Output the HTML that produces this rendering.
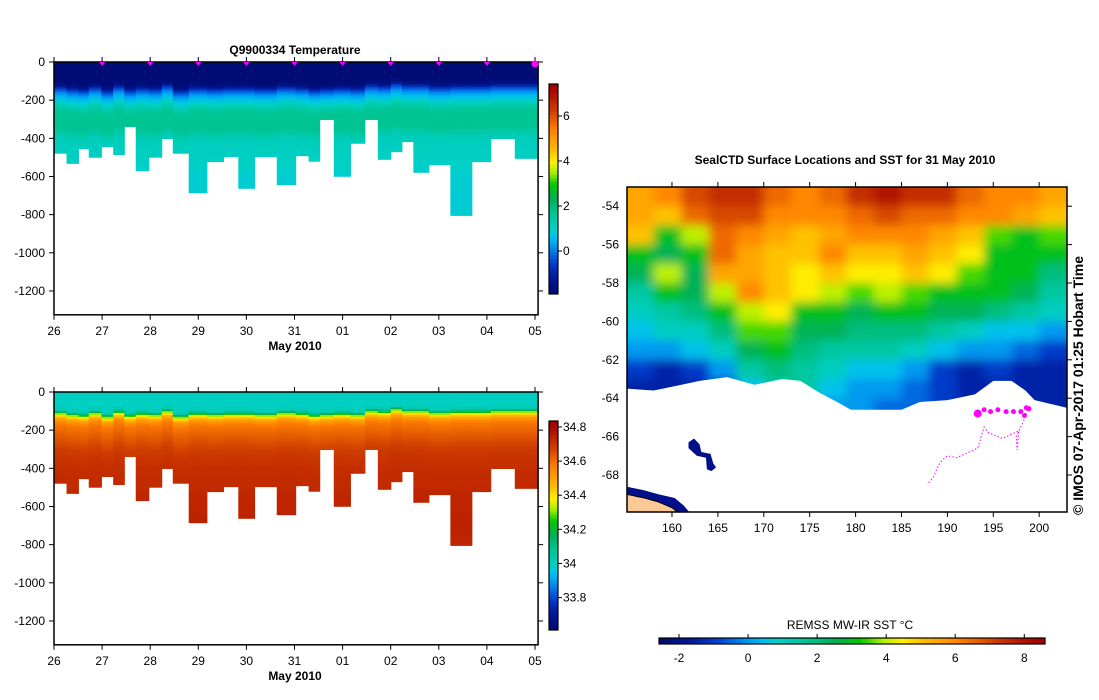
<!DOCTYPE html>
<html><head><meta charset="utf-8"><style>
html,body{margin:0;padding:0;background:#fff;}
svg{display:block;font-family:"Liberation Sans",sans-serif;}
text{fill:#000;}
</style></head><body>
<svg id="fig" width="1099" height="700" viewBox="0 0 1099 700" xmlns="http://www.w3.org/2000/svg">
<defs>
<filter id="bl" x="0" y="0" width="1" height="1" filterUnits="objectBoundingBox"><feGaussianBlur stdDeviation="5" edgeMode="duplicate"/></filter>
<clipPath id="mapclip"><rect x="627" y="187" width="440" height="325"/></clipPath>
</defs>
<g id="tempChart"></g>
<g id="salChart"></g>
<g id="mapChart"></g>
<text x="295" y="54" text-anchor="middle" font-size="12" font-weight="bold">Q9900334  Temperature</text>
<text x="845" y="164" text-anchor="middle" font-size="12" font-weight="bold">SealCTD Surface Locations and SST for 31 May 2010</text>
<text x="850" y="629" text-anchor="middle" font-size="12">REMSS MW-IR SST °C</text>
<text transform="translate(1083,515) rotate(-90)" font-size="14" font-weight="bold">© IMOS 07-Apr-2017 01:25 Hobart Time</text>
</svg>
<script>
// ---- profile data ----
const profileBounds = [0,0.261,0.508,0.723,0.986,1.231,1.462,1.7,1.97,2.239,2.47,2.801,3.178,3.524,3.832,4.17,4.632,5.024,5.294,5.524,5.817,6.163,6.463,6.733,7.002,7.233,7.471,7.794,8.241,8.687,9.08,9.58,10.064];
const profileBottoms = [478,531,454,499,443,485,338,569,499,401,478,685,522,496,662,496,643,491,520,301,599,426,301,510,470,417,578,538,804,522,401,505];
const mixedLayerDepths = [120,130,135,120,140,115,135,125,130,110,140,125,130,125,125,130,120,125,135,130,125,130,110,115,100,110,110,120,115,115,110,110];
const tempDepths = [0,25,50,75,100,125,150,175,200,225,250,275,300,350,400,450,500,550,600,700,900];
const tempValues = [-1.8,-1.8,-1.8,-1.8,-1.8,-1.6,-0.4,0.3,0.7,1.1,1.5,1.7,1.7,1.7,1.2,1.1,1.05,1.0,0.9,0.9,0.9];
const salDepths = [0,25,50,75,100,125,150,175,200,225,250,275,300,350,400,450,500,550,600,700,900];
const salValues = [34.0,34.0,34.0,34.0,34.03,34.38,34.52,34.58,34.6,34.62,34.64,34.66,34.68,34.7,34.71,34.72,34.72,34.73,34.73,34.74,34.72];
const dayLabels = ["26","27","28","29","30","31","01","02","03","04","05"];
const depthTicks = [0,-200,-400,-600,-800,-1000,-1200];
const tempCbTicks = [0,2,4,6];
const salCbTicks = ["33.8","34","34.2","34.4","34.6","34.8"];
// ---- map data ----
const sstLons = [156.5,159.5,162.5,165.5,168.5,171.5,174.5,177.5,180.5,183.5,186.5,189.5,192.5,195.5,198.5,201.5];
const sstLats = [-53.5,-54.5,-55.5,-56.5,-57.5,-58.5,-59.5,-60.5,-61.5,-62.5,-63.5,-64.5];
const sstRow0 = [5.5,6,7,7.5,7.5,6.5,6,6.5,7.5,8,7.5,7.5,6.5,6,6,5.5];
const sstRow1 = [5.5,5,6.5,7,7,6,6,6,6.5,7,6.5,6.5,6,6,5.5,5];
const sstRow2 = [5,3,4,6.5,6,5.5,5,5.5,6,6,6,5.5,5,3.5,3,3.5];
const sstRow3 = [3,2.5,3,6.5,5.5,5,5,6,5,5,5.5,5,4.5,3,3,3];
const sstRow4 = [2.5,4,2.5,5.5,5.5,5,4.5,5,4.5,4.5,5,4.5,3.5,3,3,2];
const sstRow5 = [1.5,3,2.5,4,6,5,4.5,4,3.5,4,3.5,3,3,3,2.5,1.5];
const sstRow6 = [1,1.5,2,3,4,4.5,3,3,2.5,3,3,2.5,2.5,2,1.5,1];
const sstRow7 = [0.5,1,1,2,3.5,3.5,2.5,2.5,2,2,2,1.5,1,0.5,0.5,0];
const sstRow8 = [0,0,0.5,1,2.5,3,2,1.5,1.5,1.5,1,0.5,0,0,-0.5,-1];
const sstRow9 = [-1,-1.5,-1,0,1.5,2,1.5,1,0.5,0.5,0,-1,-1.5,-1,-1.5,-1.5];
const sstRow10 = [-1.5,-1.5,-1.5,-1,0.5,1.5,1.5,0.5,0,0,-0.5,-1,-1.5,-1.5,-1.5,-1.5];
const sstRow11 = [-1.5,-1.5,-1.5,-1,0,0.5,0.5,0,0,-0.5,-0.5,-1,-1.5,-1.5,-1.5,-1.5];
const iceLons = [155,158,160,163,166,169,172,174,176,178,179.5,185,187,190,193,195,197,198.5,199.5,203,203,155];
const iceLats = [-63.5,-63.6,-63.4,-63.1,-62.9,-63.3,-63.0,-63.1,-63.7,-64.2,-64.6,-64.6,-64.2,-64.1,-63.8,-63.1,-63.1,-63.6,-64.1,-64.5,-70,-70];
const trackLons = [198.7,198.3,197.5,197.6,197.8,196,194.5,194,193.5,193.3,191,190,189.5,189,188.5,187.8];
const trackLats = [-64.6,-65.2,-66,-66.7,-65.7,-66.1,-65.8,-65.5,-66.3,-66.6,-67.1,-67,-67.2,-67.5,-68.1,-68.5];
const surfLons = [193.3,194,194.7,195.5,196.4,197.2,198,198.6,198.9,198.4];
const surfLats = [-64.8,-64.6,-64.7,-64.6,-64.7,-64.7,-64.7,-64.5,-64.55,-64.9];
const lonTicks = [160,165,170,175,180,185,190,195,200];
const latTicks = [-54,-56,-58,-60,-62,-64,-66,-68];
const sstCbTicks = [-2,0,2,4,6,8];

const NS="http://www.w3.org/2000/svg";
function mk(tag,attrs,parent,txt){const e=document.createElementNS(NS,tag);for(const k in attrs)e.setAttribute(k,attrs[k]);if(txt!==undefined)e.textContent=txt;parent.appendChild(e);return e;}
const stops=[[0,[0,10,112]],[0.08,[0,26,154]],[0.15,[0,64,208]],[0.22,[0,144,240]],[0.27,[0,192,240]],[0.31,[0,208,200]],[0.39,[0,196,144]],[0.46,[0,176,80]],[0.52,[0,200,0]],[0.58,[176,240,0]],[0.63,[255,240,0]],[0.68,[255,192,0]],[0.78,[255,128,0]],[0.87,[208,64,0]],[0.95,[176,16,0]],[1,[160,0,0]]];
function cmap(t){t=Math.max(0,Math.min(1,t));for(let i=1;i<stops.length;i++){if(t<=stops[i][0]){const a=stops[i-1],b=stops[i];const f=(t-a[0])/(b[0]-a[0]);const c=a[1].map((v,k)=>Math.round(v+(b[1][k]-v)*f));return `rgb(${c[0]},${c[1]},${c[2]})`;}}return 'rgb(160,0,0)';}
function interp(xs,ys,x){if(x<=xs[0])return ys[0];for(let i=1;i<xs.length;i++){if(x<=xs[i]){const f=(x-xs[i-1])/(xs[i]-xs[i-1]);return ys[i-1]+(ys[i]-ys[i-1])*f;}}return ys[ys.length-1];}

function section(g,y0,vals,depths,vmin,vmax,cbTop,cbBot,cbTicks,showMarkers,cbName){
  const X=d=>54+d*48.1, Y=z=>y0+z*0.1908;
  const yBot=Y(1325), xR=X(10.064);
  for(let i=0;i<profileBottoms.length;i++){
    const x1=X(profileBounds[i]),x2=X(profileBounds[i+1]);
    const shift=mixedLayerDepths[i]-125;
    for(let z=0;z<profileBottoms[i];z+=10){
      const z2=Math.min(z+10,profileBottoms[i]);
      const v=interp(depths,vals,z+5-shift);
      const r=mk('rect',{x:x1.toFixed(2),y:Y(z).toFixed(2),width:(x2-x1+0.5).toFixed(2),height:(Y(z2)-Y(z)+0.5).toFixed(2),fill:cmap((v-vmin)/(vmax-vmin))},g);
      
      
    }
  }
  const fr=mk('rect',{x:54,y:y0,width:xR-54,height:yBot-y0,fill:'none',stroke:'#000','stroke-width':1.5},g);
  
  depthTicks.forEach(t=>{const y=Y(-t);
    mk('line',{x1:49,x2:54,y1:y,y2:y,stroke:'#000'},g);
    mk('line',{x1:xR,x2:xR+5,y1:y,y2:y,stroke:'#000'},g);
    const tl=mk('text',{x:45,y:y+4,'text-anchor':'end','font-size':12},g,String(t));
    });
  dayLabels.forEach((l,i)=>{const x=X(i);
    mk('line',{x1:x,x2:x,y1:yBot,y2:yBot+5,stroke:'#000'},g);
    mk('line',{x1:x,x2:x,y1:y0,y2:y0-5,stroke:'#000'},g);
    const tl=mk('text',{x:x,y:yBot+20,'text-anchor':'middle','font-size':12},g,l);
    
    if(showMarkers&&i>0&&i<dayLabels.length-1){const m=mk('path',{d:`M${x-3},${y0} L${x+3},${y0} L${x},${y0+4}Z`,fill:'#ff00ff'},g);
      }
  });
  if(showMarkers){const c=mk('circle',{cx:X(10),cy:y0+2,r:3.5,fill:'#ff00ff'},g);}
  const xt=mk('text',{x:295,y:yBot+35,'text-anchor':'middle','font-size':12,'font-weight':'bold'},g,'May 2010');
  
  const cb=mk('g',{},g);
  const n=60;for(let k=0;k<n;k++){const y=cbTop+(cbBot-cbTop)*k/n;const t=1-(k+0.5)/n;
    mk('rect',{x:549,y:y.toFixed(2),width:9,height:((cbBot-cbTop)/n+0.5).toFixed(2),fill:cmap(t)},cb);}
  mk('rect',{x:549,y:cbTop,width:9,height:cbBot-cbTop,fill:'none',stroke:'#000','stroke-width':1.2},cb);
  cbTicks.forEach(t=>{const v=parseFloat(t);const y=cbBot-(v-vmin)/(vmax-vmin)*(cbBot-cbTop);
    mk('line',{x1:558,x2:562,y1:y,y2:y,stroke:'#000'},cb);
    const tl=mk('text',{x:563,y:y+4,'font-size':12},cb,String(t));
    });
}
section(document.getElementById('tempChart'),62,tempValues,tempDepths,-1.91,7.42,84,294,tempCbTicks,true,'temperature-colorbar');
section(document.getElementById('salChart'),392,salValues,salDepths,33.61,34.835,421,630,salCbTicks,false,'salinity-colorbar');

// ---- map ----
const mg=document.getElementById('mapChart');
const LX=lon=>627+(lon-155.1)*9.18, LY=lat=>187+(-53.0-lat)*19.2;
const smin=-2.58,smax=8.6;
const rows=[sstRow0,sstRow1,sstRow2,sstRow3,sstRow4,sstRow5,sstRow6,sstRow7,sstRow8,sstRow9,sstRow10,sstRow11];
const clipG=mk('g',{'clip-path':'url(#mapclip)'},mg);
const hm=mk('g',{filter:'url(#bl)'},clipG);

rows.forEach((row,r)=>{row.forEach((v,c)=>{
  const x1=LX(sstLons[c]-1.5)-(c===0?30:0),x2=LX(sstLons[c]+1.5)+(c===sstLons.length-1?30:0);
  const y1=LY(sstLats[r]+0.5)-(r===0?30:0),y2=LY(sstLats[r]-0.5)+(r===rows.length-1?30:0);
  const cell=mk('rect',{x:x1.toFixed(1),y:y1.toFixed(1),width:(x2-x1+0.5).toFixed(1),height:(y2-y1+0.5).toFixed(1),fill:cmap((v-smin)/(smax-smin))},hm);
  
});});
const ice=mk('polygon',{points:iceLons.map((l,i)=>LX(l).toFixed(1)+','+LY(iceLats[i]).toFixed(1)).join(' '),fill:'#fff'},clipG);

const coastN=mk('polygon',{points:[[155,-68.6],[157,-68.8],[158.5,-69.0],[160.3,-69.2],[161.3,-69.6],[162,-70],[155,-70]].map(p=>LX(p[0])+','+LY(p[1])).join(' '),fill:'#00108a'},clipG);

const land=mk('polygon',{points:[[155,-69.0],[157,-69.2],[158.5,-69.4],[160,-69.7],[160.8,-70],[155,-70]].map(p=>LX(p[0])+','+LY(p[1])).join(' '),fill:'#fcc896',stroke:'#000','stroke-width':1},clipG);

const isl=mk('polygon',{points:[[161.8,-66.3],[162.4,-66.1],[163,-66.4],[163.2,-66.8],[164.2,-66.9],[164.5,-67.4],[164.8,-67.6],[164.3,-67.8],[163.8,-67.7],[163.7,-67.1],[162.7,-67.0],[161.8,-66.6]].map(p=>LX(p[0])+','+LY(p[1])).join(' '),fill:'#00108a'},clipG);

const tr=mk('polyline',{points:trackLons.map((l,i)=>LX(l).toFixed(1)+','+LY(trackLats[i]).toFixed(1)).join(' '),fill:'none',stroke:'#ff00ff','stroke-width':1,'stroke-dasharray':'1.5,2'},mg);

surfLons.forEach((l,i)=>{const c=mk('circle',{cx:LX(l),cy:LY(surfLats[i]),r:i===0?4:2.5,fill:'#ff00ff'},mg);
  });
const mf=mk('rect',{x:627,y:187,width:440,height:325,fill:'none',stroke:'#000','stroke-width':1.5},mg);

lonTicks.forEach(t=>{const x=LX(t);
  mk('line',{x1:x,x2:x,y1:512,y2:517,stroke:'#000'},mg);mk('line',{x1:x,x2:x,y1:187,y2:182,stroke:'#000'},mg);
  const tl=mk('text',{x:x,y:532,'text-anchor':'middle','font-size':12},mg,String(t));
  });
latTicks.forEach(t=>{const y=LY(t);
  mk('line',{x1:1067,x2:1072,y1:y,y2:y,stroke:'#000'},mg);
  const tl=mk('text',{x:619,y:y+4,'text-anchor':'end','font-size':12},mg,String(t));
  });
const scb=mk('g',{},mg);
const CX=v=>659+(v-smin)/(smax-smin)*386;
for(let k=0;k<80;k++){const x=659+386*k/80;mk('rect',{x:x.toFixed(2),y:638,width:(386/80+0.5).toFixed(2),height:6,fill:cmap((k+0.5)/80)},scb);}
mk('rect',{x:659,y:638,width:386,height:6,fill:'none',stroke:'#000','stroke-width':1.2},scb);
sstCbTicks.forEach(t=>{const x=CX(t);mk('line',{x1:x,x2:x,y1:634,y2:638,stroke:'#000'},scb);
  const tl=mk('text',{x:x,y:662,'text-anchor':'middle','font-size':12},scb,String(t));
  });
</script>
</body></html>
